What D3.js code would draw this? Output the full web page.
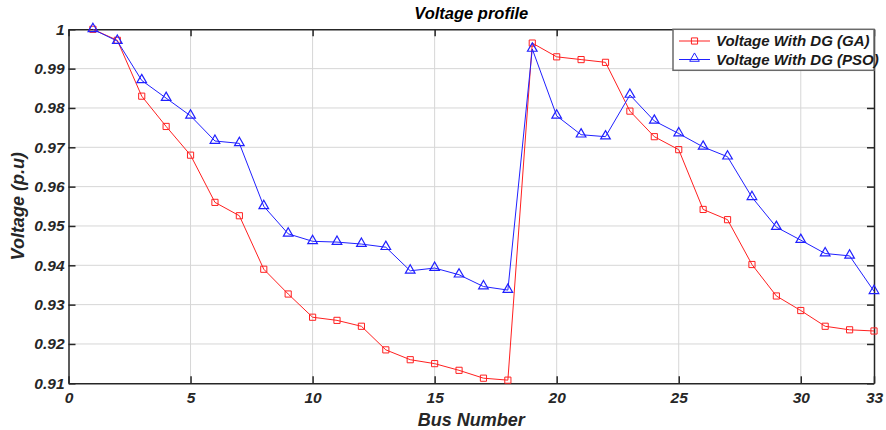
<!DOCTYPE html>
<html>
<head>
<meta charset="utf-8">
<script src="https://cdn.jsdelivr.net/npm/d3@7"></script>
<style>
body { margin: 0; background: #fff; }
text { font-family: "Liberation Sans", Arial, sans-serif; font-weight: bold; font-style: italic; }
</style>
</head>
<body>
<svg width="886" height="430"></svg>
<script>
// bus numbers and voltages
var buses = d3.range(1, 34)
var gaVolt = [1.0, 0.9972, 0.983, 0.9753, 0.968, 0.956, 0.9526, 0.939, 0.9327, 0.9268,
  0.926, 0.9245, 0.9185, 0.916, 0.915, 0.9133, 0.9113, 0.9108, 0.9965, 0.993,
  0.9923, 0.9916, 0.9792, 0.9727, 0.9694, 0.9542, 0.9516, 0.9402, 0.9322, 0.9285,
  0.9245, 0.9236, 0.9233]
var psoVolt = [1.0, 0.997, 0.987, 0.9825, 0.978, 0.9716, 0.971, 0.955, 0.948, 0.9461,
  0.9459, 0.9454, 0.9446, 0.9386, 0.9393, 0.9376, 0.9346, 0.9337, 0.995, 0.978,
  0.9732, 0.9727, 0.9833, 0.9767, 0.9735, 0.9701, 0.9676, 0.9573, 0.9497, 0.9464,
  0.943, 0.9424, 0.9334]
var xTicks = [0, 5, 10, 15, 20, 25, 30, 33]
var yTicks = [0.91, 0.92, 0.93, 0.94, 0.95, 0.96, 0.97, 0.98, 0.99, 1]
var seriesNames = ["Voltage With DG (GA)", "Voltage With DG (PSO)"]

// plot box (named pl* so they don't clash with window.top)
var plL = 68.5, plR = 874, plT = 29.3, plB = 383.3

var svg = d3.select("svg")

var x = d3.scaleLinear().domain([0, 33]).range([plL, plR])
var y = d3.scaleLinear().domain([0.91, 1]).range([plB, plT])

// grid
svg.append("g").selectAll("line").data(xTicks.slice(1, -1)).enter().append("line")
  .attr("x1", d => x(d)).attr("x2", d => x(d))
  .attr("y1", plT).attr("y2", plB)
  .attr("stroke", "#d6d6d6").attr("stroke-width", 1)
svg.append("g").selectAll("line").data(yTicks.slice(1, -1)).enter().append("line")
  .attr("y1", d => y(d)).attr("y2", d => y(d))
  .attr("x1", plL).attr("x2", plR)
  .attr("stroke", "#d6d6d6").attr("stroke-width", 1)

// axes, ticks pointing inward
var tickCol = "#262626"
var gx = svg.append("g").attr("transform", "translate(0," + plB + ")")
  .call(d3.axisBottom(x).tickValues(xTicks).tickSizeInner(-7).tickSizeOuter(0).tickPadding(9))
var gy = svg.append("g").attr("transform", "translate(" + plL + ",0)")
  .call(d3.axisLeft(y).tickValues(yTicks).tickFormat(d => d == 1 ? "1" : d3.format(".2f")(d))
    .tickSizeInner(-7).tickSizeOuter(0).tickPadding(4))
var gt = svg.append("g").attr("transform", "translate(0," + plT + ")")
  .call(d3.axisTop(x).tickValues(xTicks).tickSizeInner(-7).tickSizeOuter(0).tickFormat(""))
var gr = svg.append("g").attr("transform", "translate(" + plR + ",0)")
  .call(d3.axisRight(y).tickValues(yTicks).tickSizeInner(-7).tickSizeOuter(0).tickFormat(""))
;[gx, gy, gt, gr].forEach(function(g) {
  g.select(".domain").attr("stroke", tickCol).attr("stroke-width", 1.5)
  g.selectAll(".tick line").attr("stroke", tickCol).attr("stroke-width", 1.5)
  g.selectAll(".tick text").attr("fill", tickCol).attr("font-size", 15.5)
    .style("font-family", "'Liberation Sans', Arial, sans-serif")
    .style("font-weight", "bold").style("font-style", "italic")
})

// lines + markers
var line = d3.line().x((d, i) => x(buses[i])).y(d => y(d))
var sqr = d3.symbol().type(d3.symbolSquare).size(38)
var tri = d3.symbol().type(d3.symbolTriangle).size(40)

svg.append("path").datum(gaVolt).attr("d", line)
  .attr("fill", "none").attr("stroke", "#ff2020").attr("stroke-width", 1)
svg.append("path").datum(psoVolt).attr("d", line)
  .attr("fill", "none").attr("stroke", "#2020ff").attr("stroke-width", 1)

svg.append("g").selectAll("path").data(gaVolt).enter().append("path")
  .attr("d", sqr)
  .attr("transform", (d, i) => "translate(" + x(buses[i]) + "," + y(d) + ")")
  .attr("fill", "none").attr("stroke", "#ff2020").attr("stroke-width", 1)
svg.append("g").selectAll("path").data(psoVolt).enter().append("path")
  .attr("d", tri)
  .attr("transform", (d, i) => "translate(" + x(buses[i]) + "," + (y(d) - 0.5) + ")")
  .attr("fill", "none").attr("stroke", "#2020ff").attr("stroke-width", 1.2)

// legend
var lg = svg.append("g")
lg.append("rect").attr("x", 673).attr("y", plT).attr("width", plR - 673).attr("height", 41)
  .attr("fill", "#fff").attr("stroke", "#6a6a6a").attr("stroke-width", 1.5)
var cols = ["#ff2020", "#2020ff"]
var syms = [sqr, tri]
seriesNames.forEach(function(name, i) {
  var yy = 41 + i * 18.5
  lg.append("line").attr("x1", 679).attr("x2", 710).attr("y1", yy).attr("y2", yy)
    .attr("stroke", cols[i]).attr("stroke-width", 1)
  lg.append("path").attr("d", syms[i]).attr("transform", "translate(694.5," + (yy - (i ? 1 : 0)) + ")")
    .attr("fill", "none").attr("stroke", cols[i]).attr("stroke-width", 1)
  lg.append("text").attr("x", 716).attr("y", yy + 5).text(name)
    .attr("font-size", 15).attr("fill", "#1a1a1a")
})

// titles
svg.append("text").attr("x", (plL + plR) / 2).attr("y", 19).attr("text-anchor", "middle")
  .attr("font-size", 16.5).attr("fill", "#000").text("Voltage profile")
svg.append("text").attr("x", (plL + plR) / 2).attr("y", 426).attr("text-anchor", "middle")
  .attr("font-size", 18).attr("fill", tickCol).text("Bus Number")
svg.append("text").attr("transform", "translate(24," + (plT + plB) / 2 + ") rotate(-90)")
  .attr("text-anchor", "middle").attr("font-size", 18).attr("fill", tickCol).text("Voltage (p.u)")
</script>
</body>
</html>
